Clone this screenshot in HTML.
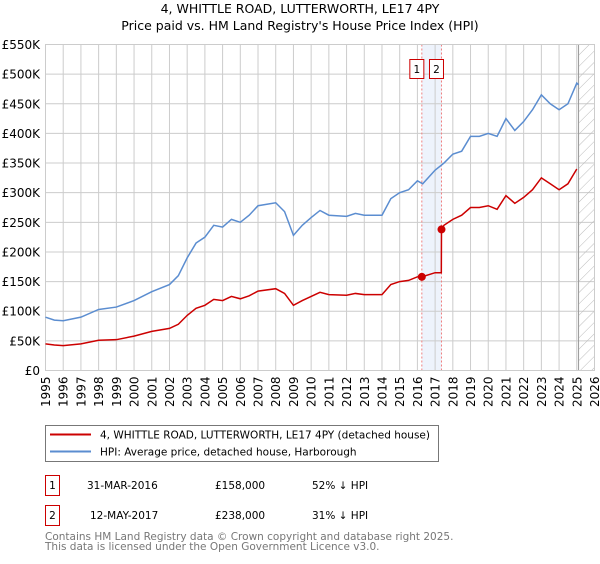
<!DOCTYPE html>
<html><head><meta charset="utf-8">
<style>
body{margin:0;background:#fff;width:600px;height:560px;overflow:hidden;font-family:"DejaVu Sans","Liberation Sans",sans-serif;}
svg text{font-family:"DejaVu Sans","Liberation Sans",sans-serif;}
</style></head>
<body>
<svg id="chart" width="600" height="560" xmlns="http://www.w3.org/2000/svg">
<defs>
<pattern id="hatch" patternUnits="userSpaceOnUse" width="8" height="8" patternTransform="rotate(45)">
<line x1="0" y1="0" x2="0" y2="8" stroke="#bbb" stroke-width="1"/>
</pattern>
</defs>
<text x="300" y="13" text-anchor="middle" font-size="12.5" fill="#000">4, WHITTLE ROAD, LUTTERWORTH, LE17 4PY</text>
<text x="300" y="30" text-anchor="middle" font-size="12.5" fill="#000">Price paid vs. HM Land Registry's House Price Index (HPI)</text>
<g id="grid"></g>
<g id="marks"></g>
<g id="axes"></g>
<rect x="45.5" y="425.5" width="393" height="36" fill="#fff" stroke="#777"/>
<line x1="50" y1="434.5" x2="91" y2="434.5" stroke="#cc0000" stroke-width="2"/>
<text x="100" y="438.5" font-size="10.5">4, WHITTLE ROAD, LUTTERWORTH, LE17 4PY (detached house)</text>
<line x1="50" y1="451.5" x2="91" y2="451.5" stroke="#5b8dd0" stroke-width="2"/>
<text x="100" y="455.5" font-size="10.5">HPI: Average price, detached house, Harborough</text>
<g font-size="10.5">
<rect x="45.5" y="475.5" width="14" height="20" fill="#fff" stroke="#cc0000"/>
<text x="52.5" y="489" text-anchor="middle">1</text>
<text x="87" y="489">31-MAR-2016</text>
<text x="215" y="489">£158,000</text>
<text x="312" y="489">52% ↓ HPI</text>
</g>
<g font-size="10.5">
<rect x="45.5" y="505.5" width="14" height="20" fill="#fff" stroke="#cc0000"/>
<text x="52.5" y="519" text-anchor="middle">2</text>
<text x="90" y="519">12-MAY-2017</text>
<text x="215" y="519">£238,000</text>
<text x="312" y="519">31% ↓ HPI</text>
</g>
<text x="45" y="540" font-size="10.5" fill="#777">Contains HM Land Registry data © Crown copyright and database right 2025.</text>
<text x="45" y="550" font-size="10.5" fill="#777">This data is licensed under the Open Government Licence v3.0.</text>
</svg>
<script>
const hpiYears=[1995,1995.5,1996,1997,1998,1999,2000,2001,2002,2002.5,2003,2003.5,2004,2004.5,2005,2005.5,2006,2006.5,2007,2008,2008.5,2009,2009.5,2010,2010.5,2011,2012,2012.5,2013,2014,2014.5,2015,2015.5,2016,2016.3,2017,2017.5,2018,2018.5,2019,2019.5,2020,2020.5,2021,2021.5,2022,2022.5,2023,2023.5,2024,2024.5,2025,2025.1];
const hpiValues=[90,85,84,90,103,107,118,133,145,160,190,215,225,245,242,255,250,262,278,283,268,228,245,258,270,262,260,265,262,262,290,300,305,320,315,338,350,365,370,395,395,400,395,425,405,420,440,465,450,440,450,485,482];
const priceYears=[1995,1995.5,1996,1997,1998,1999,2000,2001,2002,2002.5,2003,2003.5,2004,2004.5,2005,2005.5,2006,2006.5,2007,2008,2008.5,2009,2009.5,2010,2010.5,2011,2012,2012.5,2013,2014,2014.5,2015,2015.5,2016,2016.25,2017,2017.35,2017.36,2017.5,2018,2018.5,2019,2019.5,2020,2020.5,2021,2021.5,2022,2022.5,2023,2023.5,2024,2024.5,2025];
const priceValues=[45,43,42,45,51,52,58,66,71,78,93,105,110,120,118,125,121,126,134,138,130,110,118,125,132,128,127,130,128,128,145,150,152,158,158,165,165,238,245,255,262,275,275,278,272,295,282,292,305,325,315,305,315,340];
const saleYears=[2016.25,2017.36];
const saleValues=[158,238];
const saleLabels=["1","2"];
const yTicks=[0,50,100,150,200,250,300,350,400,450,500,550];
const yTickLabels=["£0","£50K","£100K","£150K","£200K","£250K","£300K","£350K","£400K","£450K","£500K","£550K"];
const xTicks=[1995,1996,1997,1998,1999,2000,2001,2002,2003,2004,2005,2006,2007,2008,2009,2010,2011,2012,2013,2014,2015,2016,2017,2018,2019,2020,2021,2022,2023,2024,2025,2026];
const dataEndYear=2025.1;

const X0=45.5,X1=594.5,Y0=370.5,Y1=44.5;
const x=y=>X0+(y-1995)/(2026-1995)*(X1-X0);
const yv=v=>Y0-v/550*(Y0-Y1);
const NS="http://www.w3.org/2000/svg";
function mk(tag,attrs,parent){const e=document.createElementNS(NS,tag);for(const k in attrs)e.setAttribute(k,attrs[k]);parent.appendChild(e);return e;}
const grid=document.getElementById('grid'),marks=document.getElementById('marks'),axes=document.getElementById('axes');

let e=mk('rect',{x:X0,y:Y1,width:X1-X0,height:Y0-Y1,fill:'#fff'},grid);


e=mk('rect',{x:x(saleYears[0]),y:Y1,width:x(saleYears[1])-x(saleYears[0]),height:Y0-Y1,fill:'#eef3fc'},grid);


yTicks.forEach((t,i)=>{
  const l=mk('line',{x1:X0,x2:X1,y1:yv(t),y2:yv(t),stroke:'#ccc'},grid);
  
  
  const tx=mk('text',{x:40,y:yv(t)+4.5,'text-anchor':'end','font-size':'12'},axes);
  tx.textContent=yTickLabels[i];
  
  
});
xTicks.forEach(t=>{
  const l=mk('line',{x1:x(t),x2:x(t),y1:Y1,y2:Y0,stroke:'#ccc'},grid);
  
  
  const tx=mk('text',{transform:`translate(${x(t)+4.5},${Y0+6}) rotate(-90)`,'text-anchor':'end','font-size':'12'},axes);
  tx.textContent=t;
  
  
});
e=mk('rect',{x:x(dataEndYear),y:Y1,width:X1-x(dataEndYear),height:Y0-Y1,fill:'url(#hatch)'},grid);


e=mk('line',{x1:x(dataEndYear),x2:x(dataEndYear),y1:Y1,y2:Y0,stroke:'#999'},grid);


saleYears.forEach(s=>{
  const l=mk('line',{x1:x(s),x2:x(s),y1:Y1,y2:Y0,stroke:'#f08080','stroke-dasharray':'2,2'},grid);
  
  
});
e=mk('rect',{x:X0,y:Y1,width:X1-X0,height:Y0-Y1,fill:'none',stroke:'#ccc'},grid);



e=mk('polyline',{points:hpiYears.map((yr,i)=>x(yr)+','+yv(hpiValues[i])).join(' '),fill:'none',stroke:'#5b8dd0','stroke-width':'1.5'},marks);


e=mk('polyline',{points:priceYears.map((yr,i)=>x(yr)+','+yv(priceValues[i])).join(' '),fill:'none',stroke:'#cc0000','stroke-width':'1.5'},marks);


saleYears.forEach((s,i)=>{
  const c=mk('circle',{cx:x(s),cy:yv(saleValues[i]),r:4,fill:'#cc0000'},marks);
  
  
  const bx=x(s)-5-7;
  const r=mk('rect',{x:bx,y:59.5,width:14,height:19,fill:'#fff',stroke:'#cc0000'},marks);
  
  
  const t=mk('text',{x:bx+7,y:73,'text-anchor':'middle','font-size':'10.5'},marks);
  t.textContent=saleLabels[i];
  
  
});
</script>
</body></html>
